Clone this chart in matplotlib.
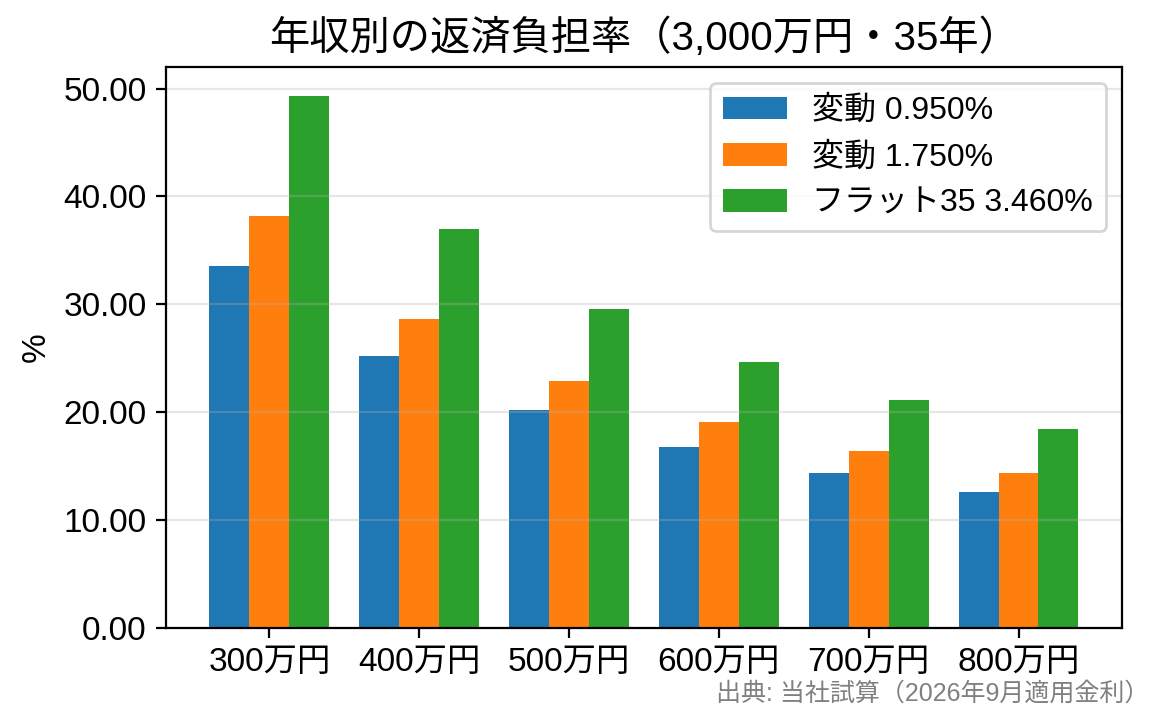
import numpy as np
import matplotlib
matplotlib.use("Agg")
import matplotlib.pyplot as plt
from matplotlib.ticker import FormatStrFormatter

plt.rcParams['font.family'] = ['Liberation Sans', 'Noto Sans CJK JP']
plt.rcParams['font.size'] = 12

# 年収カテゴリ
incomes = ["300万円", "400万円", "500万円", "600万円", "700万円", "800万円"]

# 返済負担率 (%)
hendo_095 = [33.59, 25.19, 20.16, 16.80, 14.40, 12.60]
hendo_175 = [38.23, 28.67, 22.94, 19.11, 16.38, 14.34]
flat35_346 = [49.32, 36.99, 29.59, 24.66, 21.14, 18.49]

series_labels = ["変動 0.950%", "変動 1.750%", "フラット35 3.460%"]

fig, ax = plt.subplots(figsize=(5.825, 3.625), dpi=200)
fig.subplots_adjust(left=0.1425, right=0.963, top=0.9076, bottom=0.1338)

x = np.arange(len(incomes))
w = 0.8 / 3
for i, (vals, lab) in enumerate(zip([hendo_095, hendo_175, flat35_346], series_labels)):
    ax.bar(x + (i - 1) * w, vals, width=w, label=lab)

ax.set_xticks(x)
ax.set_xticklabels(incomes)
ax.set_ylim(0, 52)
ax.yaxis.set_major_formatter(FormatStrFormatter('%.2f'))
ax.set_ylabel("%")
ax.set_title("年収別の返済負担率（3,000万円・35年）", fontsize=14.5)
ax.grid(axis='y', alpha=0.3)
ax.legend(loc='upper right', fontsize=11.5)

fig.text(0.987, 0.044, "出典: 当社試算（2026年9月適用金利）", ha='right', va='center',
         fontsize=9, color='gray')

fig.savefig("out.png", dpi=200)
